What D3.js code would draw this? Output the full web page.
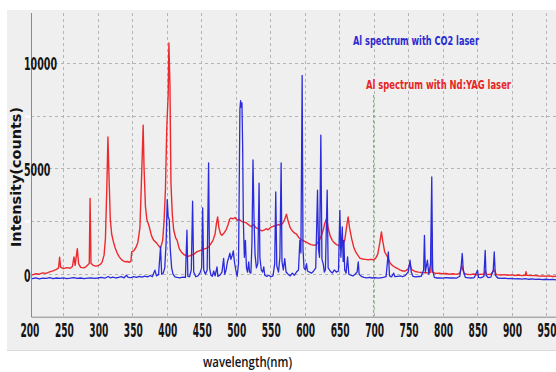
<!DOCTYPE html>
<html>
<head>
<meta charset="utf-8">
<script src="https://cdn.jsdelivr.net/npm/d3@7"></script>
<style>
  body { margin: 0; background: #fff; }
  svg { display: block; }
</style>
</head>
<body>
<div id="chart"></div>
<script>
// axis ticks
const xTicks = [200, 250, 300, 350, 400, 450, 500, 550, 600, 650, 700, 750, 800, 850, 900, 950];
const yTickLabels = [0, 5000, 10000];
const yGridValues = [0, 2500, 5000, 7500, 10000];
const markerWavelength = 700;
const markerTopCounts = 8480;

// Al spectrum with Nd:YAG laser, [wavelength nm, counts]
const ndyagSpectrum = [
  [200, 0], [205, -30], [210, 20], [215, 0], [220, 60], [225, 40], [230, 110], [235, 160],
  [240, 230], [243, 300], [244.5, 800], [246, 330], [250, 260], [255, 310], [260, 280],
  [263, 360], [265.4, 820], [267, 420], [270.2, 1210], [272, 500], [275, 320], [280, 300],
  [283, 360], [287.5, 500], [288.7, 3580], [290, 520], [293, 420], [297, 380], [300, 400],
  [303, 450], [306, 560], [309, 900], [311, 1700], [313, 4130], [314.6, 6490], [316, 4800],
  [318, 2600], [320, 1900], [322, 1600], [325, 1250], [328, 1000], [331, 820], [334, 700],
  [337, 620], [340, 590], [343, 600], [346, 560], [348, 620], [349, 1050], [352, 1100],
  [355, 1250], [358, 1500], [361, 2200], [363, 4200], [365.7, 7040], [367, 5000], [369, 3200],
  [371, 2600], [374, 2300], [378, 1800], [381, 1600], [385, 1480], [388, 1350], [391, 1250],
  [394, 1600], [396, 2500], [398, 4000], [400, 7000], [402, 8500], [403, 10930], [404.5, 9000],
  [406, 4300], [408, 2800], [410, 2080], [413, 1700], [415, 1600], [418, 1210], [421, 1050],
  [425, 920], [429, 850], [432, 850], [436, 900], [440, 960], [443, 1050], [447, 1100],
  [451, 1150], [455, 1200], [458, 1230], [461, 1300], [464, 1450], [467, 1600], [470, 1900],
  [472, 2400], [473.7, 2710], [475.5, 2200], [478, 1900], [480, 1840], [483, 1950], [486, 2100],
  [489, 2350], [491, 2600], [493, 2650], [496, 2620], [499, 2680], [502, 2550], [505, 2600],
  [508, 2500], [511, 2470], [514, 2450], [517, 2380], [520, 2300], [523, 2250], [526, 2350],
  [529, 2200], [532, 2150], [535, 2100], [538, 2050], [541, 2080], [544, 2150], [547, 2100],
  [550, 2200], [553, 2250], [556, 2280], [559, 2310], [562, 2350], [565, 2310], [568, 2400],
  [571, 2600], [573.5, 2840], [576, 2500], [579, 2200], [582, 2050], [585, 1950], [588, 1900],
  [591, 1750], [594, 1650], [597, 1600], [600, 1550], [603, 1500], [606, 1450], [609, 1400],
  [612, 1380], [615, 1370], [618, 1450], [621, 1600], [624, 1800], [627, 2100], [629, 2400],
  [631.7, 2630], [634, 2200], [637, 1800], [640, 1600], [643, 1480], [646, 1400], [649, 1370],
  [652, 1300], [655, 1400], [658, 1600], [661, 2300], [663, 2710], [665, 2200], [668, 1690],
  [671, 1290], [674, 1050], [677, 900], [680, 760], [684, 720], [688, 700], [692, 680],
  [696, 700], [700, 680], [703, 760], [706, 950], [709, 1500], [711.3, 2000], [713, 1600],
  [716, 1050], [720, 830], [724, 520], [727, 420], [730, 350], [734, 280], [738, 200],
  [742, 150], [746, 150], [750, 250], [752.5, 500], [755, 220], [760, 130], [765, 100],
  [770, 80], [775, 70], [780, 60], [783, 100], [784.3, 2000], [785.5, 100], [790, 40],
  [795, 50], [800, 20], [805, 30], [810, 0], [815, 20], [820, -10], [825, 50], [828, 400],
  [831, 40], [835, 0], [840, -20], [845, 10], [850, -30], [855, 0], [860, -10], [862, 150],
  [864, -20], [870, 0], [875, 200], [878, -20], [885, -40], [890, -20], [895, -50], [900, -30],
  [905, -60], [910, -40], [915, -70], [920, -50], [921, 120], [922, -50], [930, -70], [935, -60],
  [940, -90], [945, -80], [950, -100], [955, -80], [960, -110], [965, -100]
];

// Al spectrum with CO2 laser, [wavelength nm, counts]
const co2Spectrum = [
  [200, -180], [205, -210], [210, -170], [215, -220], [220, -190], [225, -200], [230, -160],
  [235, -210], [240, -180], [245, -200], [250, -170], [255, -210], [260, -190], [265, -160],
  [270, -200], [275, -180], [280, -210], [285, -190], [290, -170], [295, -200], [300, -180],
  [305, -150], [310, -190], [315, -110], [318, -170], [322, -140], [326, -180], [330, -150],
  [334, -120], [338, -170], [341.5, -50], [344, -150], [348, -160], [352, -120], [356, -150],
  [360, -100], [364, -140], [368, -90], [372, -130], [376, -60], [379, -120], [382.7, 190],
  [385, -80], [388, -20], [390.9, 1290], [392.5, 0], [394.8, 50], [397, 300], [399, 1500],
  [400.6, 3530], [402, 2700], [403.5, 2600], [405, 1200], [407, 300], [409, 0], [411.8, -130],
  [415, -150], [419, -170], [423, -140], [427, -150], [429.2, 2080], [430.5, -100], [433, -120],
  [435.5, 200], [437.4, 3450], [439, 100], [442, -120], [445, -80], [448, 50], [450.5, 300],
  [452, 3130], [453.5, 200], [456, 0], [458.5, 200], [460.6, 5260], [462, 300], [464, -50],
  [466, -100], [468, 150], [470, -80], [472.8, 350], [474, -100], [477, -50], [480, 100],
  [482.4, 750], [484, 0], [486, 200], [488, 600], [490, 800], [491.5, 1000], [493, 700],
  [495, 900], [496.5, 1100], [498, 600], [500, 200], [502, -100], [504, 500], [505, 4000],
  [506, 7800], [507, 8200], [508, 7900], [509, 8100], [510, 6000], [511, 2500], [512.5, 800],
  [514, 1600], [515.5, 300], [517, 100], [518.8, 580], [520, 100], [522, 50], [523.5, 1500],
  [525, 5400], [526.5, 2600], [528, 900], [530, 300], [532, 500], [533.8, 4300], [535, 800],
  [537, 200], [539, 100], [540.6, 350], [542, -50], [545, -100], [548, -50], [551, -120],
  [554, -80], [556.5, 500], [558, 3890], [559.5, 400], [562, 100], [564, 800], [565.8, 5260],
  [567, 600], [569, 200], [571, 740], [573, 100], [576, 0], [579, -80], [582, 50], [585, -50],
  [588, 100], [591, 200], [593, 1600], [594.5, 1000], [596.3, 9400], [597.5, 1200], [599, 300],
  [601, 200], [602.6, 500], [604, 150], [607, 100], [610, 50], [613, 150], [616, 300],
  [618.6, 3970], [620, 1200], [621.5, 800], [623.4, 6570], [625, 700], [626.8, 500],
  [628.5, 100], [630, 200], [632.6, 3970], [634, 300], [637, 150], [640, 50], [643, 200],
  [646, 100], [649, 150], [651, 3020], [652.5, 800], [654.5, 2240], [655.8, 600], [656.9, 1600],
  [658, 200], [660, 50], [662.2, 820], [664, 0], [667, -50], [670, -80], [673, 0], [676, 100],
  [677.7, 580], [679, 0], [682, -100], [686, -150], [690, -170], [694, -150], [698, -180],
  [702, -160], [706, -190], [710, -170], [714, -150], [718, -120], [721.3, 1050], [723, -80],
  [726, -130], [729, 50], [731, -120], [735, -100], [739, -80], [742, -120], [746, -60],
  [750, 100], [752.8, 660], [754.5, 100], [757, -100], [761, -130], [765, -110], [769, -100],
  [772.5, 200], [773.7, 1840], [775, 100], [778, 660], [780, 0], [782.5, 500], [784.3, 4600],
  [785.5, 200], [788, -150], [792, -180], [796, -170], [800, -190], [805, -160], [810, -180],
  [815, -170], [820, -190], [825, -100], [827, 400], [828.5, 980], [830, 200], [833, -150],
  [838, -170], [842, -180], [846, -160], [850.7, 190], [852, -150], [856, -170], [860, -100],
  [861.8, 1130], [863, -50], [866, -160], [870, -140], [873.5, 200], [874.9, 1050], [876.5, -50],
  [880, -180], [885, -200], [890, -190], [895, -210], [900, -200], [905, -220], [910, -210],
  [915, -230], [920, -210], [925, -240], [930, -220], [935, -250], [940, -230], [945, -260],
  [950, -240], [955, -260], [960, -250], [965, -270]
];

const width = 556;
const height = 372;
const plot = { left: 31, right: 556, top: 13, bottom: 316.7 };
const narrow = "'Liberation Sans Narrow', 'DejaVu Sans Condensed', Arial, sans-serif";

const svg = d3.select("#chart")
  .append("svg")
  .attr("width", width)
  .attr("height", height)
  .attr("viewBox", `0 0 ${width} ${height}`);

// grey panel
svg.append("rect")
  .attr("x", 7).attr("y", 10)
  .attr("width", width - 7).attr("height", 340)
  .attr("fill", "#efefef");
svg.append("line")
  .attr("x1", 7).attr("x2", width)
  .attr("y1", 350.5).attr("y2", 350.5)
  .attr("stroke", "#dcdcdc");

const x = d3.scaleLinear()
  .domain([203, 964.5])
  .range([plot.left, plot.right]);

const y = d3.scaleLinear()
  .domain([-2010, 12350])
  .range([plot.bottom, plot.top]);

svg.append("clipPath")
  .attr("id", "plot-clip")
  .append("rect")
  .attr("x", plot.left).attr("y", plot.top)
  .attr("width", plot.right - plot.left).attr("height", plot.bottom - plot.top);

// grid
const grid = svg.append("g")
  .attr("stroke", "#b4b4b4")
  .attr("stroke-width", 1)
  .attr("stroke-dasharray", "3,3");

grid.selectAll(".vgrid")
  .data(xTicks.filter((d) => d > 200))
  .join("line")
  .attr("x1", (d) => Math.round(x(d)) + 0.5)
  .attr("x2", (d) => Math.round(x(d)) + 0.5)
  .attr("y1", plot.top)
  .attr("y2", plot.bottom);

grid.selectAll(".hgrid")
  .data(yGridValues)
  .join("line")
  .attr("x1", plot.left)
  .attr("x2", plot.right)
  .attr("y1", (d) => Math.round(y(d)) + 0.5)
  .attr("y2", (d) => Math.round(y(d)) + 0.5);

// faint white tick marks left of the axis
svg.append("g")
  .selectAll("line")
  .data(yGridValues)
  .join("line")
  .attr("x1", plot.left - 6)
  .attr("x2", plot.left - 1)
  .attr("y1", (d) => Math.round(y(d)) + 0.5)
  .attr("y2", (d) => Math.round(y(d)) + 0.5)
  .attr("stroke", "#ffffff")
  .attr("stroke-width", 2);

// 700 nm marker
svg.append("line")
  .attr("x1", x(markerWavelength))
  .attr("x2", x(markerWavelength))
  .attr("y1", y(markerTopCounts))
  .attr("y2", plot.bottom)
  .attr("stroke", "#3fcf3f")
  .attr("stroke-width", 1)
  .attr("stroke-dasharray", "3,2");

// spectra
const line = d3.line()
  .x((d) => x(d[0]))
  .y((d) => y(d[1]));

const lines = svg.append("g").attr("clip-path", "url(#plot-clip)");

lines.append("path")
  .datum(ndyagSpectrum)
  .attr("fill", "none")
  .attr("stroke", "#ec2a2e")
  .attr("stroke-width", 1.4)
  .attr("stroke-linejoin", "round")
  .attr("d", line);

lines.append("path")
  .datum(co2Spectrum)
  .attr("fill", "none")
  .attr("stroke", "#2b2bdc")
  .attr("stroke-width", 1.3)
  .attr("stroke-linejoin", "round")
  .attr("d", line);

// axis frame
svg.append("path")
  .attr("d", `M${plot.left + 0.5},${plot.top} V${plot.bottom + 0.5} H${plot.right}`)
  .attr("fill", "none")
  .attr("stroke", "#8a8a8a")
  .attr("stroke-width", 1);

// x tick labels
svg.append("g")
  .selectAll("text")
  .data(xTicks)
  .join("text")
  .attr("x", (d) => x(d) + 1)
  .attr("y", 337)
  .attr("text-anchor", "middle")
  .attr("font-family", narrow)
  .attr("font-weight", "bold")
  .attr("font-size", 20)
  .attr("textLength", 19)
  .attr("lengthAdjust", "spacingAndGlyphs")
  .attr("fill", "#141414")
  .text((d) => d);

// y tick labels
svg.append("g")
  .selectAll("text")
  .data(yTickLabels)
  .join("text")
  .attr("x", 24)
  .attr("y", (d) => y(d) + 7.5)
  .attr("font-family", narrow)
  .attr("font-weight", "bold")
  .attr("font-size", 17)
  .attr("textLength", (d) => String(d).length * 6.6)
  .attr("lengthAdjust", "spacingAndGlyphs")
  .attr("fill", "#141414")
  .text((d) => d);

// axis titles
svg.append("text")
  .attr("transform", "translate(21,177) rotate(-90)")
  .attr("text-anchor", "middle")
  .attr("font-family", "'DejaVu Sans', sans-serif")
  .attr("font-weight", "bold")
  .attr("font-size", 13.5)
  .attr("textLength", 140)
  .attr("lengthAdjust", "spacingAndGlyphs")
  .attr("fill", "#141414")
  .text("Intensity(counts)");

svg.append("text")
  .attr("x", 247.5)
  .attr("y", 367)
  .attr("text-anchor", "middle")
  .attr("font-family", "'Open Sans', sans-serif")
  .attr("font-weight", 600)
  .attr("font-size", 14)
  .attr("textLength", 89)
  .attr("lengthAdjust", "spacingAndGlyphs")
  .attr("fill", "#141414")
  .text("wavelength(nm)");

// legend notes
svg.append("text")
  .attr("x", 353)
  .attr("y", 45)
  .attr("font-family", narrow)
  .attr("font-weight", "bold")
  .attr("font-size", 12.5)
  .attr("textLength", 126)
  .attr("lengthAdjust", "spacingAndGlyphs")
  .attr("fill", "#2b2bd0")
  .text("Al spectrum with CO2 laser");

svg.append("text")
  .attr("x", 366)
  .attr("y", 89)
  .attr("font-family", narrow)
  .attr("font-weight", "bold")
  .attr("font-size", 12.5)
  .attr("textLength", 145)
  .attr("lengthAdjust", "spacingAndGlyphs")
  .attr("fill", "#e82525")
  .text("Al spectrum with Nd:YAG laser");
</script>
</body>
</html>
